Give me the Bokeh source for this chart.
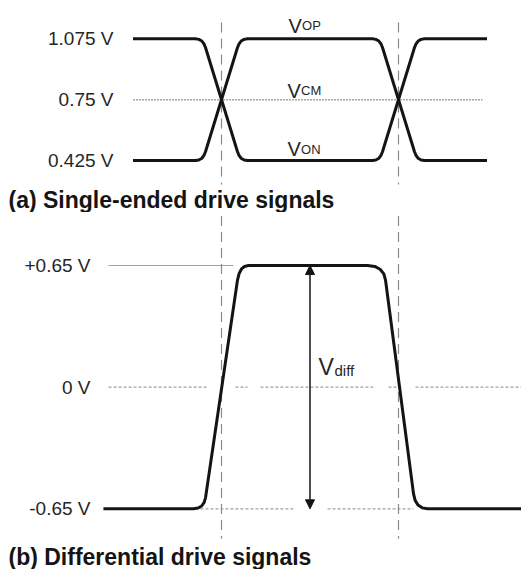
from bokeh.plotting import figure
from bokeh.models import Range1d, FixedTicker, Title, Arrow, NormalHead
from bokeh.layouts import column
from bokeh.embed import file_html
from bokeh.resources import INLINE
from bokeh.core.properties import value

# ---------------- data (time in unit intervals, crossings at 0 and 1) ----------------
se_ticks = [0.425, 0.75, 1.075]
se_tick_labels = ["0.425 V", "0.75 V", "1.075 V"]
t_se = [-0.5, -0.147, -0.128, -0.111, -0.099, -0.09, 0.09, 0.099, 0.111, 0.128, 0.147,
        0.853, 0.872, 0.889, 0.901, 0.91, 1.09, 1.099, 1.111, 1.128, 1.147, 1.5]
v_op = [0.425, 0.425, 0.428, 0.437, 0.452, 0.473, 1.027, 1.048, 1.063, 1.072, 1.075,
        1.075, 1.072, 1.063, 1.048, 1.027, 0.473, 0.452, 0.437, 0.428, 0.425, 0.425]
v_on = [1.075, 1.075, 1.072, 1.063, 1.048, 1.027, 0.473, 0.452, 0.437, 0.428, 0.425,
        0.425, 0.428, 0.437, 0.452, 0.473, 1.027, 1.048, 1.063, 1.072, 1.075, 1.075]
vcm_t = [-0.5, 1.475]
vcm_v = [0.75, 0.75]
crossings = [0.0, 1.0]
se_names = ["OP", "CM", "ON"]
se_name_t = [0.379, 0.373, 0.373]
se_name_v = [1.145, 0.798, 0.484]

diff_ticks = [-0.65, 0.0, 0.65]
diff_tick_labels = ["-0.65 V", "0 V", "+0.65 V"]
t_diff = [-0.667, -0.158, -0.132, -0.112, -0.098, -0.09, 0.09, 0.099, 0.112, 0.130, 0.153,
          0.825, 0.866, 0.896, 0.917, 0.927, 1.085, 1.094, 1.110, 1.134, 1.164, 1.695]
v_diff = [-0.65, -0.65, -0.646, -0.635, -0.616, -0.59, 0.57, 0.605, 0.63, 0.645, 0.65,
          0.65, 0.645, 0.63, 0.605, 0.57, -0.57, -0.605, -0.63, -0.645, -0.65, -0.65]
pos_ref_t = [-0.638, 0.068]
zero_seg_t0 = [-0.638, 0.079, 0.220, 0.944, 1.096]
zero_seg_t1 = [-0.079, 0.147, 0.870, 0.994, 1.695]
neg_seg_t0 = [-0.119, 0.599]
neg_seg_t1 = [0.407, 1.085]
vdiff_amp = 0.65
vdiff_arrow_t = 0.5
vdiff_label_t = 0.548
vdiff_label_v = 0.106

FONT = "Liberation Sans"
BLACK = "#141414"
LBL = "#262626"
PX_PER_UI = 177.0
X_RANGE = (-121 / PX_PER_UI, 300 / PX_PER_UI)


def style(p, ticks, labels, standoff):
    p.xaxis.visible = False
    p.grid.visible = False
    p.outline_line_color = None
    ax = p.yaxis[0]
    ax.ticker = FixedTicker(ticks=ticks)
    ax.major_label_overrides = {t: l for t, l in zip(ticks, labels)}
    ax.axis_line_color = None
    ax.major_tick_line_color = None
    ax.minor_tick_line_color = None
    ax.major_tick_out = 0
    ax.major_tick_in = 0
    ax.major_label_standoff = standoff
    ax.major_label_text_font = FONT
    ax.major_label_text_font_size = "19px"
    ax.major_label_text_color = LBL


# ---------------- top: single-ended ----------------
p1 = figure(frame_width=421, frame_height=184, output_backend="svg", toolbar_location=None,
            x_range=Range1d(*X_RANGE), y_range=Range1d(0.2968, 1.2796),
            min_border_left=100, min_border_right=0, min_border_top=0, min_border_bottom=0)
style(p1, se_ticks, se_tick_labels, -13)

p1.line(vcm_t, vcm_v, line_color="#a8a8a8", line_width=1.5, line_dash="2 1")
p1.segment(x0=crossings, y0=[1.162] * 2, x1=crossings, y1=[0.2] * 2,
           line_color="#8a8a8a", line_width=1.2, line_dash="10 6")
p1.line(t_se, v_op, line_color=BLACK, line_width=3, line_join="round")
p1.line(t_se, v_on, line_color=BLACK, line_width=3, line_join="round")
p1.text(x=se_name_t, y=se_name_v, text=["V"] * 3, text_font=value(FONT), text_font_size="20px",
        text_color=LBL, text_baseline="alphabetic", text_align="left")
p1.text(x=se_name_t, y=se_name_v, text=se_names, text_font=value(FONT), text_font_size="13px",
        text_color=LBL, text_baseline="alphabetic", text_align="left", x_offset=13.5)
p1.add_layout(Title(text="(a) Single-ended drive signals", align="left", offset=-92, standoff=0,
                    text_font=FONT, text_font_size="23px", text_font_style="bold",
                    text_color=BLACK), "below")

# ---------------- bottom: differential ----------------
p2 = figure(frame_width=421, frame_height=329, output_backend="svg", toolbar_location=None,
            x_range=Range1d(*X_RANGE), y_range=Range1d(-0.8247, 0.9331),
            min_border_left=100, min_border_right=0, min_border_top=0, min_border_bottom=0)
style(p2, diff_ticks, diff_tick_labels, 10)

p2.line(pos_ref_t, [vdiff_amp] * 2, line_color="#a0a0a0", line_width=1.2)
p2.segment(x0=zero_seg_t0, y0=[0.0] * 5, x1=zero_seg_t1, y1=[0.0] * 5,
           line_color="#a0a0a0", line_width=1.2, line_dash="3 2")
p2.segment(x0=neg_seg_t0, y0=[-vdiff_amp] * 2, x1=neg_seg_t1, y1=[-vdiff_amp] * 2,
           line_color="#a0a0a0", line_width=1.2, line_dash="3 2")
p2.segment(x0=crossings, y0=[1.0] * 2, x1=crossings, y1=[-0.81] * 2,
           line_color="#8a8a8a", line_width=1.2, line_dash="10 6")
p2.line(t_diff, v_diff, line_color=BLACK, line_width=3, line_join="round")
p2.add_layout(Arrow(x_start=vdiff_arrow_t, y_start=-vdiff_amp, x_end=vdiff_arrow_t, y_end=vdiff_amp,
                    line_color=BLACK, line_width=1.5,
                    start=NormalHead(size=9, fill_color=BLACK, line_color=BLACK),
                    end=NormalHead(size=9, fill_color=BLACK, line_color=BLACK)))
p2.text(x=[vdiff_label_t], y=[vdiff_label_v], text=["V"], text_font=value(FONT), text_font_size="23px",
        text_color=LBL, text_baseline="alphabetic", text_align="left")
p2.text(x=[vdiff_label_t], y=[vdiff_label_v], text=["diff"], text_font=value(FONT), text_font_size="15px",
        text_color=LBL, text_baseline="alphabetic", text_align="left", x_offset=16, y_offset=3)
p2.add_layout(Title(text="(b) Differential drive signals", align="left", offset=-92, standoff=0,
                    text_font=FONT, text_font_size="23px", text_font_style="bold",
                    text_color=BLACK), "below")

layout = column(p1, p2, spacing=0)
open("out.html", "w").write(file_html(layout, INLINE))
